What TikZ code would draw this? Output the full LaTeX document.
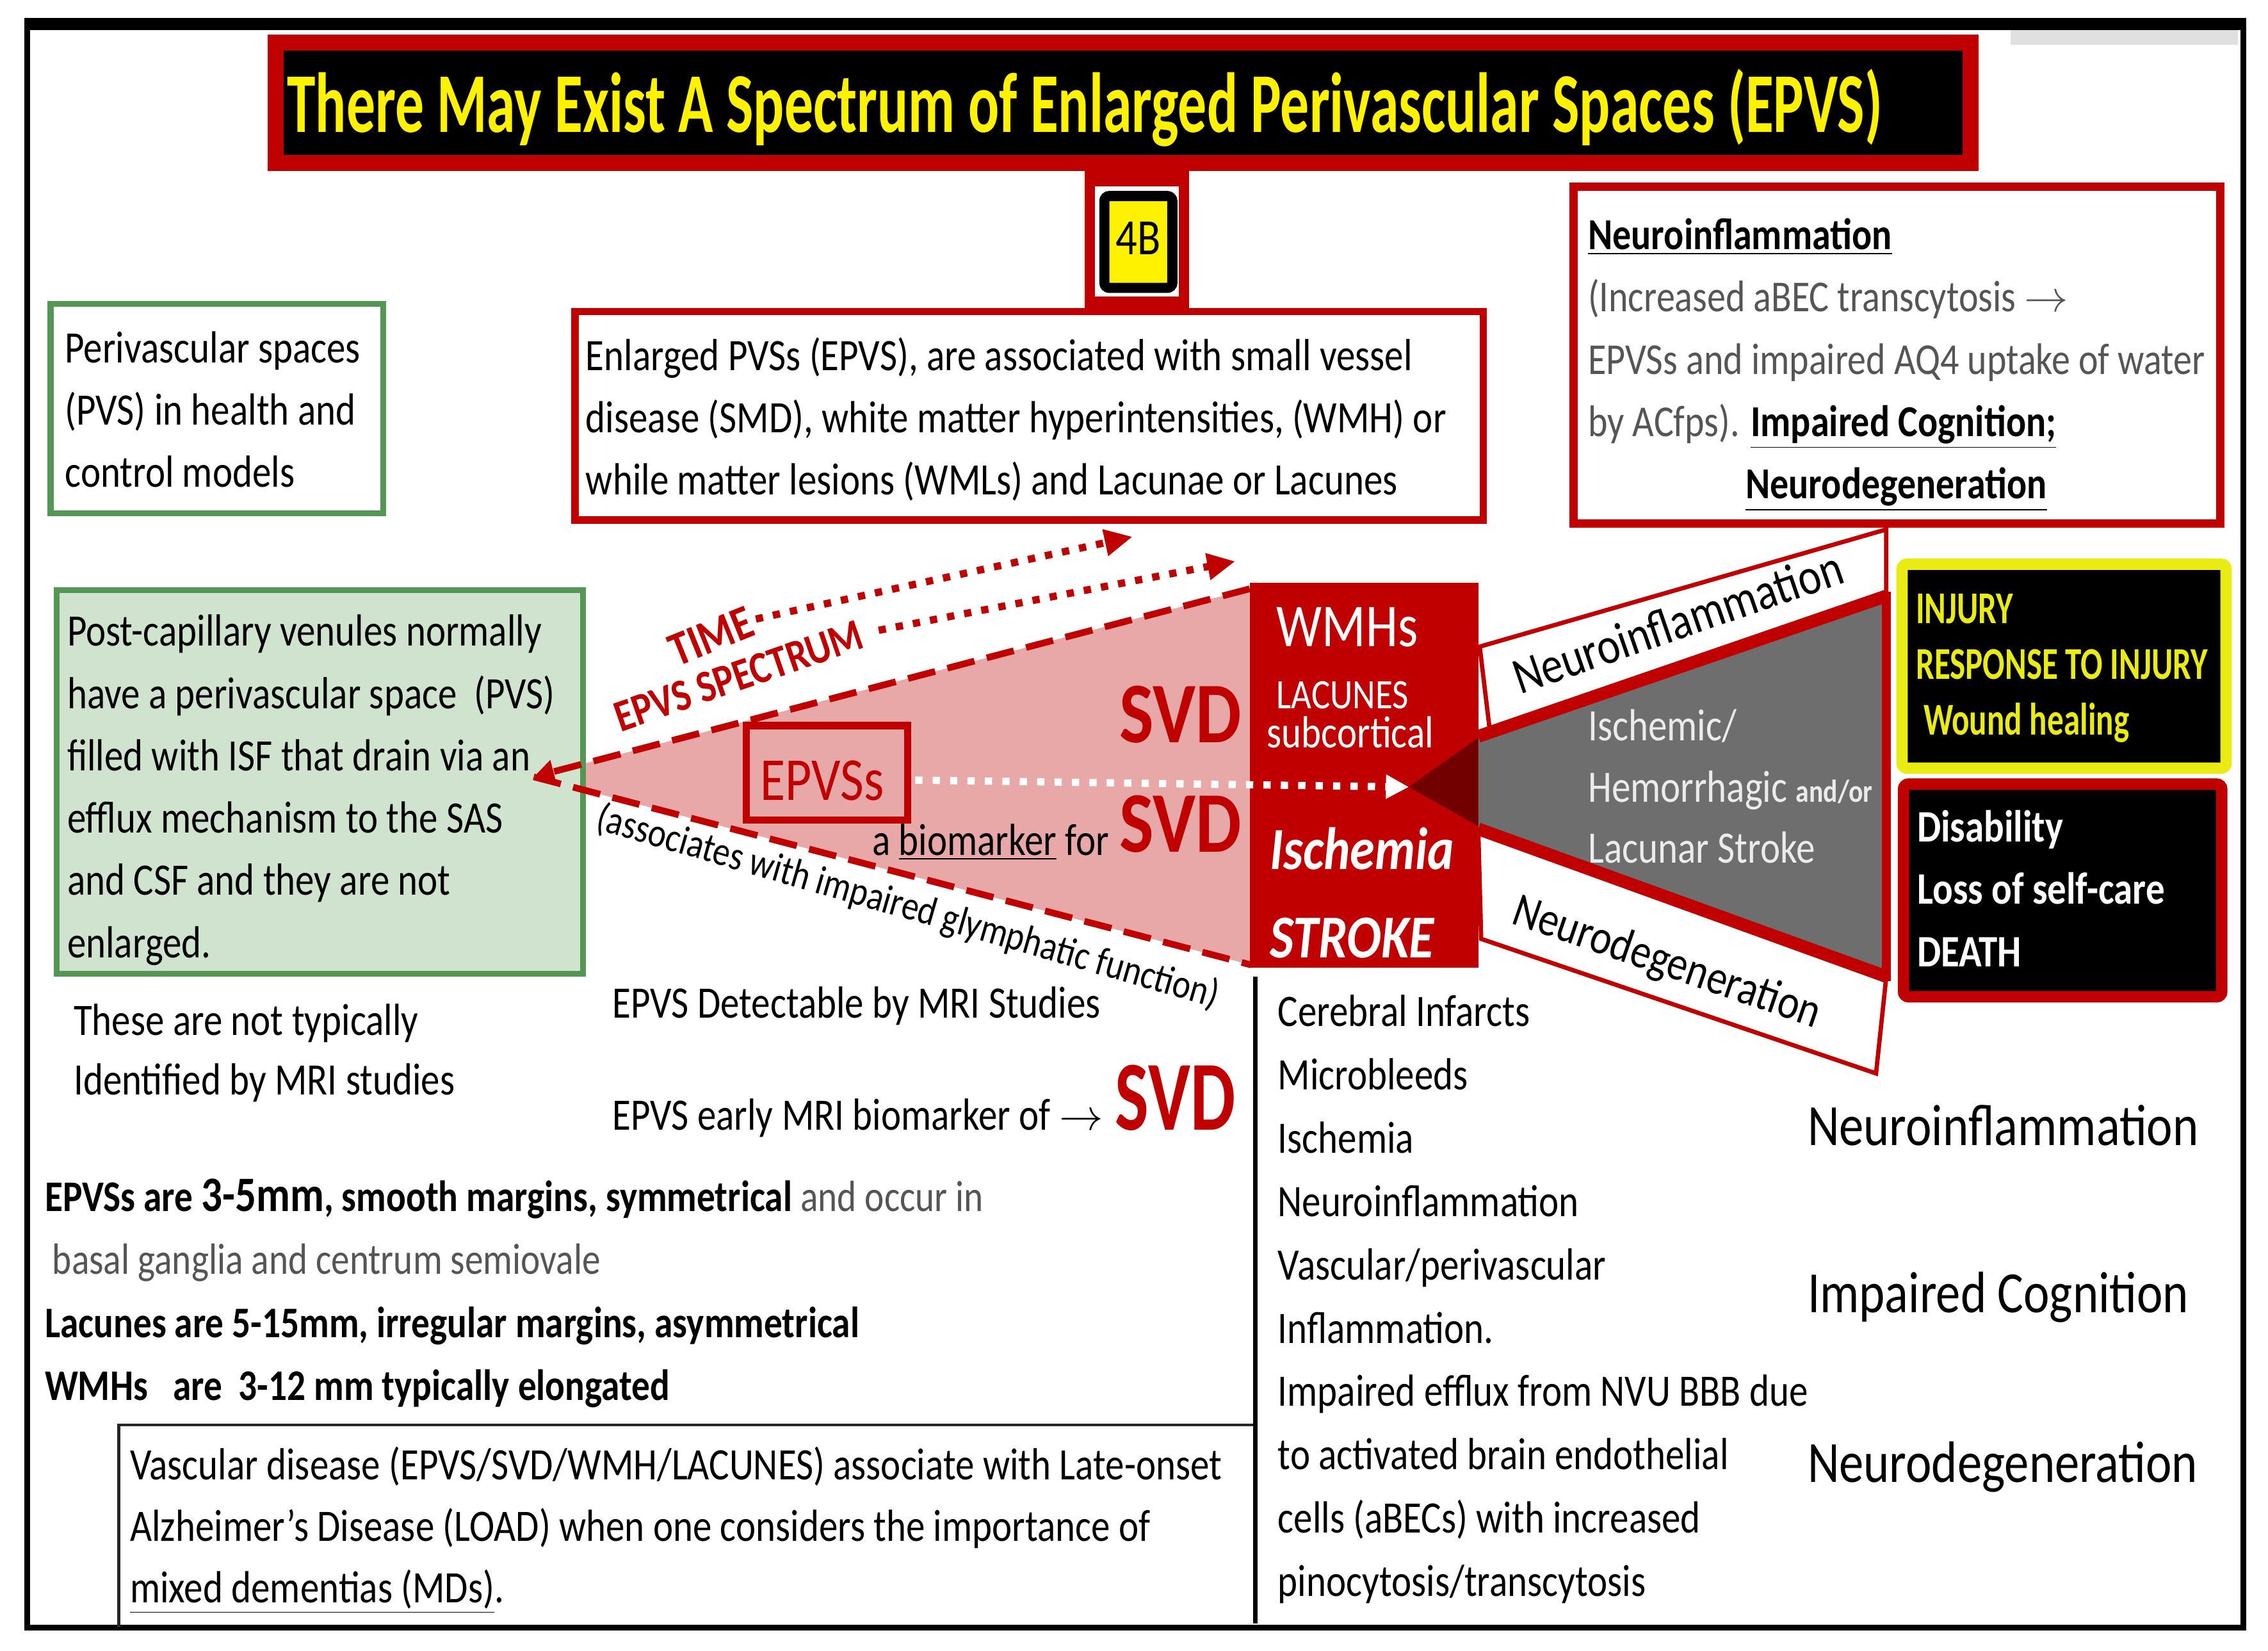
\documentclass[tikz,border=0pt]{standalone}
\usepackage{fontspec}
\setmainfont{Carlito}[FakeStretch=0.84]
\newfontfamily\narrowfont{Carlito}[FakeStretch=0.72]
\newfontfamily\titlefont{Carlito}[FakeStretch=0.675]
\usetikzlibrary{arrows.meta, positioning, fit}

\definecolor{epvsred}{RGB}{192,0,0}
\definecolor{deepred}{RGB}{115,0,0}
\definecolor{epvspink}{RGB}{233,168,168}
\definecolor{pvsgreen}{RGB}{84,150,84}
\definecolor{pvsfill}{RGB}{207,227,207}
\definecolor{strokegrey}{RGB}{110,110,110}
\definecolor{injyellow}{RGB}{235,235,20}
\definecolor{softgrey}{RGB}{85,85,85}

\newcommand{\fsz}[2]{\fontsize{#1}{#2}\selectfont}
\newcommand{\bodyfont}{\fsz{17.7}{24.5}}

\begin{document}
\begin{tikzpicture}[
  x=0.02cm, y=-0.02cm,
  every node/.style={inner sep=0pt, outer sep=0pt},
  txt/.style={anchor=base west, text width=16cm, align=flush left, font=\bodyfont,
              execute at begin node={\spaceskip=0pt\xspaceskip=0pt}},
  redbox/.style={draw=epvsred, line width=2.85pt},
  greenbox/.style={draw=pvsgreen, line width=2.3pt},
  blackbox/.style={fill=black, rounded corners=2pt, line width=4.5pt},
  band/.style={draw=epvsred, line width=1.7pt, fill=white},
  rededge/.style={epvsred, line width=5pt},
  dashred/.style={epvsred, line width=2.6pt, dash pattern=on 11pt off 5pt},
  dotline/.style={line width=2.85pt, dash pattern=on 2.85pt off 4pt},
  arrowtip/.style={-{Triangle[length=11pt, width=10pt]}},
  bigword/.style={anchor=base west, font=\fsz{23}{23}}
]
\useasboundingbox (0,0) rectangle (1568,1141);
\fill[white] (0,0) rectangle (1568,1141);

% frame
\draw[line width=2.3pt] (19,17) rectangle (1551,1125);
\draw[line width=4.7pt] (17,16.6) -- (1553,16.6);
\fill[black!12] (1390,21) rectangle (1547,31);

% title
\node[fit={(190.5,29.5) (1362.5,112.5)}, fill=black, draw=epvsred, line width=6.3pt] (titlebox) {};
\node[anchor=base, text=yellow, font=\titlefont\bfseries\fsz{33.5}{36}] (title) at (750,91.4)
  {There May Exist A Spectrum of Enlarged Perivascular Spaces (EPVS)};

% 4B tag
\node[fit={(750,118) (822,213)}, fill=epvsred] (tag) {};
\node[fit={(757,129) (815,205)}, fill=white] (tagrim) {};
\node[fit={(763.5,135.5) (810.5,199)}, fill=yellow, draw=black, line width=4pt,
      rounded corners=2pt] (fourb) {};
\node[anchor=base, font=\fsz{20}{20}] (fourbtxt) at (787,176) {4B};

% spectrum wedge (under the green box)
\coordinate (apex) at (369,537);
\coordinate (topend) at (864,407);
\coordinate (botend) at (865,667);
\fill[epvspink] (apex) -- (topend) -- (botend) -- cycle;

% green boxes
\node[greenbox, fit={(35,210) (265,355)}] (pvsbox) {};
\node[txt] (pvstxt) at (45,250.6) {Perivascular spaces\\(PVS) in health and\\control models};
\node[greenbox, fill=pvsfill, fit={(39,408) (403,673)}] (venbox) {};
\node[txt] (ventxt) at (46.5,446.6)
  {Post-capillary venules normally\\have a perivascular space\ \ (PVS)\\filled with ISF that drain via an\\
   efflux mechanism to the SAS\\and CSF and they are not\\enlarged.};
\node[txt, font=\fsz{17.7}{23.3}] (notmri) at (51,715.8) {These are not typically\\Identified by MRI studies};

\draw[dashred, -{Triangle[length=8pt, width=9pt]}] (topend) -- (apex);
\draw[dashred] (apex) -- (botend);

% enlarged PVS box
\node[redbox, fit={(397.5,215.5) (1025.5,359.5)}] (enlbox) {};
\node[txt] (enltxt) at (405,256)
  {Enlarged PVSs (EPVS), are associated with small vessel\\
   disease (SMD), white matter hyperintensities, (WMH) or\\
   while matter lesions (WMLs) and Lacunae or Lacunes};

% time and spectrum
\node[anchor=base west, rotate=22, text=epvsred, font=\bfseries\fsz{19}{19}] (time) at (468,461) {TIME};
\node[anchor=base west, rotate=19, text=epvsred, font=\bfseries\fsz{17.7}{17.7}] (spectrum) at (429,506) {EPVS SPECTRUM};
\coordinate (timetip) at (783,371);
\coordinate (spectip) at (854,388);
\draw[dotline, epvsred, arrowtip, shorten <=2pt] (time.east) -- (timetip);
\draw[dotline, epvsred, arrowtip, shorten <=7pt] (spectrum.east) -- (spectip);

\node[anchor=base west, rotate=-16.1, font=\fsz{16}{16}] (glymph) at (411,573)
  {(associates with impaired glymphatic function)};

% EPVSs marker
\node[fit={(516,501.5) (627.5,567)}, draw=epvsred, line width=2.85pt, fill=epvspink] (epvsbox) {};
\node[anchor=base, text=epvsred, font=\fsz{24}{24}] (epvstxt) at (568.5,553) {EPVSs};
\node[anchor=base west, text=epvsred, font=\bfseries\fsz{34}{34}] (svdtop) at (774,513.5) {SVD};
\node[anchor=base west, text=epvsred, font=\bfseries\fsz{34}{34}] (svdlow) at (774,589) {SVD};
\node[anchor=base west, font=\bodyfont] (biomark) at (603,591) {a \underline{biomarker} for};

% SVD box
\node[fit={(864,403) (1022,669)}, fill=epvsred] (svdbox) {};
\node[anchor=base west, text=white, font=\fsz{24}{24}] (wmh) at (882.6,446.7) {WMHs};
\node[anchor=base west, text=white, font=\fsz{16.5}{16.5}] (lac) at (882.6,489.7) {LACUNES};
\node[anchor=base west, text=white, font=\bodyfont] (subc) at (876,516.7) {subcortical};
\node[anchor=base west, text=white, font=\bfseries\itshape\fsz{23.5}{23.5}] (isch) at (878,601) {Ischemia};
\node[anchor=base west, text=white, font=\bfseries\itshape\fsz{24}{24}] (strokeword) at (878,662) {STROKE};

% stroke wedge and bands
\coordinate (wedge) at (974,544);
\fill[strokegrey] (1022,510) -- (1304,414) -- (1304,674) -- (1022,572) -- cycle;
\fill[deepred] (wedge) -- (1022,510) -- (1022,571) -- cycle;
\draw[band] (1023,447) -- (1304,366) -- (1304,411) -- (1030,505) -- cycle;
\draw[band] (1022,574) -- (1304,676) -- (1297,742) -- (1024,649) -- cycle;
\draw[rededge] (1022,509) -- (1304,412);
\draw[rededge] (1022,573) -- (1304,675);
\draw[epvsred, line width=3.6pt] (1304,409) -- (1304,678);

\draw[dotline, white, -{Triangle[length=9pt, width=9pt]}, shorten <=3pt] ([yshift=-2.8pt]epvsbox.east) -- (wedge);

\node[anchor=base west, rotate=19, font=\fsz{20.3}{20.3}] (inflam) at (1051,480) {Neuroinflammation};
\node[anchor=base west, rotate=-19, font=\fsz{19}{19}] (degen) at (1044,638) {Neurodegeneration};
\node[txt, text=black!8, font=\fsz{17.7}{24.1}] (strk) at (1098,512)
  {Ischemic/\\Hemorrhagic {\bfseries\fsz{12.5}{12.5}and/or}\\Lacunar Stroke};

% outcome boxes
\node[blackbox, draw=injyellow, fit={(1315,390) (1539,531)}] (injbox) {};
\node[txt, text=injyellow, font=\narrowfont\bfseries\fsz{17.9}{21.9}] (injtxt) at (1324.6,431)
  {INJURY\\RESPONSE TO INJURY\\\hspace*{3pt}Wound healing};
\node[blackbox, draw=epvsred, fit={(1316,542) (1536,689)}] (disbox) {};
\node[txt, text=white, font=\bfseries\bodyfont] (distxt) at (1325.5,582) {Disability\\Loss of self-care\\DEATH};

% neuroinflammation box
\node[redbox, line width=3.4pt, fit={(1088,129) (1535,362)}] (neurobox) {};
\node[txt, font=\fsz{17.4}{24.5}] (neurotxt) at (1098,172.5)
  {\textbf{\underline{Neuroinflammation}}\\
   \textcolor{softgrey}{(Increased aBEC transcytosis $\rightarrow$}\\
   \textcolor{softgrey}{EPVSs and impaired AQ4 uptake of water}\\
   \textcolor{softgrey}{by ACfps).} \textbf{\underline{Impaired Cognition;}}\\
   \hspace*{62pt}\textbf{\underline{Neurodegeneration}}};

% MRI notes
\node[txt] (detect) at (423.5,703.5) {EPVS Detectable by MRI Studies};
\node[txt] (early) at (423.5,781) {EPVS early MRI biomarker of $\rightarrow$};
\node[anchor=base west, text=epvsred, font=\narrowfont\bfseries\fsz{39}{39}] (svdbig) at (771,781) {SVD};

\node[txt, font=\fsz{17.2}{24.8}] (sizes) at (31,837.3)
  {\textbf{EPVSs are {\fsz{19.5}{19.5}3-5mm}, smooth margins, symmetrical} \textcolor{softgrey}{and occur in}\\
   \hspace*{3pt}\textcolor{softgrey}{basal ganglia and centrum semiovale}\\
   \textbf{Lacunes are 5-15mm, irregular margins, asymmetrical}\\
   \textbf{WMHs\ \ \ are\ \ 3-12 mm typically elongated}};

% LOAD box
\draw[black!85, line width=1.2pt] (82,1125) -- (82,985) -- (868,985);
\node[txt, font=\fsz{17.7}{24.2}] (loadtxt) at (90,1022.7)
  {Vascular disease (EPVS/SVD/WMH/LACUNES) associate with Late-onset\\
   Alzheimer's Disease (LOAD) when one considers the importance of\\
   \underline{mixed dementias (MDs)}.};

% consequences column
\draw[line width=1.7pt] (868,675) -- (868,1122);
\node[txt, font=\fsz{17.7}{24.9}] (effects) at (883.5,709.6)
  {Cerebral Infarcts\\Microbleeds\\Ischemia\\Neuroinflammation\\Vascular/perivascular\\Inflammation.\\
   Impaired efflux from NVU BBB due\\to activated brain endothelial\\cells (aBECs) with increased\\pinocytosis/transcytosis};

\foreach \w/\y/\n in {Neuroinflammation/791.7/a, Impaired Cognition/907.3/b, Neurodegeneration/1024.4/c}
  \node[bigword] (big\n) at (1249.7,\y) {\w};
\end{tikzpicture}
\end{document}
